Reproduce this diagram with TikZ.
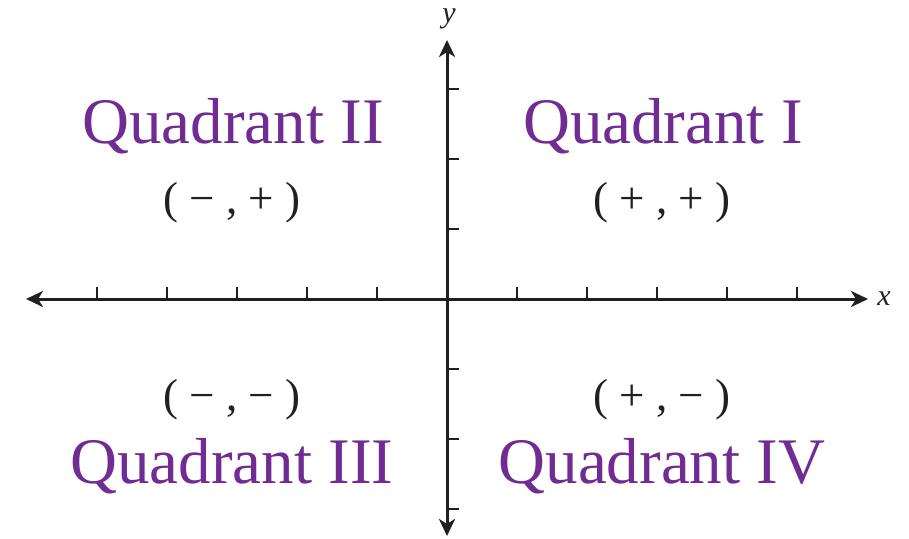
\documentclass[tikz,border=0pt]{standalone}
\usepackage{fontspec}
\setmainfont{Liberation Serif}
\usetikzlibrary{arrows.meta}
\definecolor{quadpurple}{RGB}{112,44,146}
\definecolor{axisdark}{RGB}{35,31,32}
\tikzset{
  axisline/.style={draw=axisdark, line width=3pt, {Stealth[length=17pt,width=16pt,inset=5pt]}-{Stealth[length=17pt,width=16pt,inset=5pt]}},
  tickline/.style={draw=axisdark, line width=2pt},
  quadlabel/.style={anchor=base, inner sep=0pt, text=quadpurple, font=\fontsize{65}{70}\selectfont},
  signlabel/.style={anchor=center, inner sep=0pt, text=axisdark, font=\fontsize{45}{50}\selectfont},
  axislabel/.style={anchor=center, inner sep=0pt, text=axisdark, font=\itshape\fontsize{30}{34}\selectfont}
}
\begin{document}
\begin{tikzpicture}[x=1pt,y=-1pt]
\useasboundingbox (0,0) rectangle (909,538);
\coordinate (xl) at (26,299);
\coordinate (xr) at (868,299);
\coordinate (yt) at (447,40);
\coordinate (yb) at (447,536);
\coordinate (o) at (447,299);
\draw[axisline] (xl) -- (xr);
\draw[axisline] (yb) -- (yt);
\foreach \t in {97,167,237,307,377,517,587,657,727,797}
  \draw[tickline] (\t,299) -- (\t,287);
\foreach \t in {89,159,229,369,439,509}
  \draw[tickline] (447,\t) -- (459,\t);
\node[axislabel] (xlab) at (884,299) {x};
\node[axislabel] (ylab) at (449,19) {y};
\node[quadlabel] (q2) at (233,143) {Quadrant II};
\node[quadlabel] (q1) at (663,143) {Quadrant I};
\node[quadlabel] (q3) at (232,483) {Quadrant III};
\node[quadlabel] (q4) at (662,483) {Quadrant IV};
\node[signlabel] (s2) at (232,203) {( − , + )};
\node[signlabel] (s1) at (662,203) {( + , + )};
\node[signlabel] (s3) at (232,400) {( − , − )};
\node[signlabel] (s4) at (662,400) {( + , − )};
\end{tikzpicture}
\end{document}
